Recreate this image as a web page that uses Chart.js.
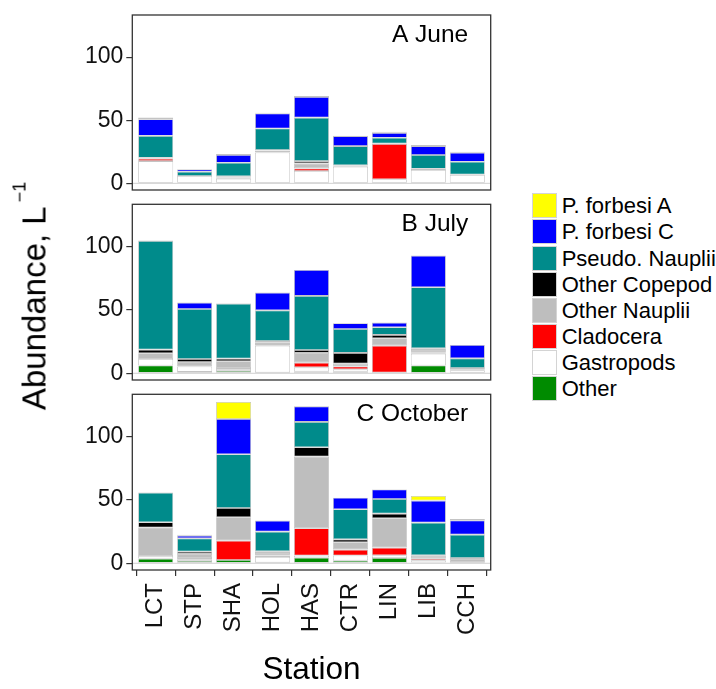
<!DOCTYPE html>
<html>
<head>
<meta charset="utf-8">
<script src="https://cdn.jsdelivr.net/npm/chart.js@4.4.0/dist/chart.umd.min.js"></script>
<style>
  html, body { margin: 0; padding: 0; background: #fff; }
  #page {
    position: relative; width: 716px; height: 689px; overflow: hidden;
    font-family: "Liberation Sans", Arial, sans-serif; color: #000;
  }
  #page canvas { position: absolute; left: 0; }
  #ytitle {
    position: absolute; left: 34px; top: 296px; white-space: nowrap;
    font-size: 33px; line-height: 1;
    transform: translate(-50%, -50%) rotate(-90deg);
  }
  #ytitle .sup { font-size: 18px; position: relative; top: -20px; margin-left: 4px; }
  .lg-row { position: absolute; left: 531.7px; height: 25px; }
  .lg-key {
    position: absolute; left: 0; top: 0; width: 25.6px; height: 25px;
    box-sizing: border-box; border: 1px solid #d4d4d4;
  }
  .lg-text {
    position: absolute; left: 30px; top: 0; line-height: 25px;
    font-size: 22px; white-space: nowrap;
  }
</style>
</head>
<body>
<div id="page">
  <canvas id="june" width="500" height="197" style="top:0px"></canvas>
  <canvas id="july" width="500" height="190" style="top:197px"></canvas>
  <canvas id="october" width="500" height="302" style="top:387px"></canvas>
  <div id="ytitle">Abundance, L<span class="sup">−1</span></div>
  <div id="legend"></div>
</div>
<script>
// stations along the estuary
const stations = ['LCT', 'STP', 'SHA', 'HOL', 'HAS', 'CTR', 'LIN', 'LIB', 'CCH'];

// taxa, bottom of the stack first
const taxa = ['Other', 'Gastropods', 'Cladocera', 'Other Nauplii', 'Other Copepod',
              'Pseudo. Nauplii', 'P. forbesi C', 'P. forbesi A'];
const taxaColors = ['#008B00', '#FFFFFF', '#FF0000', '#BEBEBE', '#000000',
                    '#008B8B', '#0000FF', '#FFFF00'];

const yTicks = [0, 50, 100];

// abundance per litre, June
const juneOther      = [0, 0, 0, 0, 0, 0, 0, 0, 0];
const juneGastropods = [17.6, 5.8, 3.7, 24.5, 9.7, 13.2, 3.2, 10.5, 6.6];
const juneCladocera  = [2.0, 0, 1.0, 1.3, 2.1, 1.0, 27.9, 1.1, 0];
const juneNauplii    = [0.7, 0, 0.8, 0.5, 4.0, 0, 0.5, 0, 0.3];
const juneCopepod    = [0, 0, 0, 0, 1.8, 0, 0, 0, 0];
const junePseudo     = [17.3, 3.4, 10.8, 17.1, 34.5, 15.3, 4.5, 10.8, 10.2];
const juneForbesiC   = [13.2, 1.8, 6.1, 11.9, 16.3, 7.9, 3.9, 7.1, 7.1];
const juneForbesiA   = [1.3, 0.3, 0.8, 0.7, 0.8, 0.3, 0.8, 0.8, 0.8];

// July
const julyOther      = [6.1, 1.1, 1.8, 0.5, 1.3, 1.3, 0.5, 6.1, 0.5];
const julyGastropods = [5.2, 4.2, 1.6, 21.3, 3.4, 1.9, 0, 9.4, 1.9];
const julyCladocera  = [0, 0, 0.8, 1.4, 3.7, 2.1, 21.3, 0.8, 0];
const julyNauplii    = [4.5, 3.6, 5.3, 1.0, 7.7, 2.3, 5.8, 2.1, 0.8];
const julyCopepod    = [2.9, 2.4, 2.1, 1.3, 2.3, 8.5, 2.7, 1.3, 1.0];
const julyPseudo     = [85.8, 39.5, 43.4, 24.2, 42.7, 18.9, 6.0, 48.2, 7.6];
const julyForbesiC   = [0.3, 5.0, 0.3, 14.0, 20.5, 4.5, 3.7, 25.0, 10.6];
const julyForbesiA   = [0, 0, 0, 0, 0, 0, 0, 0, 0];

// October
const octOther      = [3.7, 1.8, 2.6, 0.5, 4.5, 2.1, 4.2, 0.8, 0.3];
const octGastropods = [2.1, 1.4, 0, 4.5, 1.6, 4.0, 2.1, 1.6, 0.5];
const octCladocera  = [0, 1.0, 15.3, 1.1, 21.5, 4.7, 6.1, 1.5, 0];
const octNauplii    = [22.4, 3.2, 18.4, 2.1, 56.6, 5.8, 23.1, 1.9, 2.6];
const octCopepod    = [4.2, 1.8, 7.4, 1.3, 7.4, 2.3, 3.7, 0.5, 0.8];
const octPseudo     = [23.4, 10.5, 42.4, 15.5, 20.0, 23.7, 11.6, 25.8, 18.4];
const octForbesiC   = [0, 2.1, 27.8, 8.7, 12.3, 9.2, 7.4, 17.4, 11.3];
const octForbesiA   = [0, 0.8, 13.5, 0, 0, 0, 0, 3.7, 1.1];

const FONT = '"Liberation Sans", Arial, sans-serif';

// panel frame, zero line and the corner label
const panelDecor = {
  id: 'panelDecor',
  beforeDatasetsDraw(chart) {
    const { ctx, chartArea: a } = chart;
    const y0 = chart.scales.y.getPixelForValue(0);
    ctx.save();
    ctx.strokeStyle = '#d0d0d0';
    ctx.lineWidth = 1;
    ctx.beginPath();
    ctx.moveTo(a.left, y0);
    ctx.lineTo(a.right, y0);
    ctx.stroke();
    ctx.restore();
  },
  afterDatasetsDraw(chart, args, opts) {
    const { ctx, chartArea: a } = chart;
    ctx.save();
    ctx.strokeStyle = '#333';
    ctx.lineWidth = 1.3;
    ctx.strokeRect(a.left, a.top, a.right - a.left, a.bottom - a.top);
    ctx.fillStyle = '#000';
    ctx.font = '24.5px ' + FONT;
    ctx.textAlign = 'right';
    ctx.textBaseline = 'alphabetic';
    ctx.fillText(opts.text, a.right - 22.5, a.top + 26.5);
    ctx.restore();
  }
};

function buildPanel(id, label, series, padTop, padBottom, showStations) {
  const datasets = series.map((vals, k) => ({
    label: taxa[k],
    data: vals.map((v, i) => ({ x: i + 1, y: v })),
    backgroundColor: taxaColors[k],
    borderColor: '#c4c4c4',
    borderWidth: 0.8,
    borderSkipped: false,
    stack: 'all',
    barPercentage: 0.9,
    categoryPercentage: 1.0
  }));

  return new Chart(document.getElementById(id).getContext('2d'), {
    type: 'bar',
    data: { datasets },
    options: {
      responsive: false,
      animation: false,
      devicePixelRatio: 1,
      layout: { padding: { left: 0, right: 9.3, top: padTop, bottom: padBottom } },
      plugins: {
        legend: { display: false },
        tooltip: { enabled: false },
        panelDecor: { text: label }
      },
      scales: {
        x: {
          type: 'linear',
          min: 0.4,
          max: 9.6,
          offset: false,
          display: showStations,
          afterBuildTicks: s => { s.ticks = stations.map((_, i) => ({ value: i + 1 })); },
          afterFit: s => {
            s.paddingLeft = 0;
            s.paddingRight = 0;
            if (showStations) s.height = 119;
          },
          border: { display: false },
          grid: { drawOnChartArea: false, tickLength: 6, color: '#333', lineWidth: 1.2 },
          ticks: {
            autoSkip: false,
            minRotation: 90,
            maxRotation: 90,
            padding: 7,
            color: '#111',
            font: { size: 24, family: FONT },
            callback: v => stations[v - 1]
          },
          title: {
            display: showStations,
            text: 'Station',
            color: '#000',
            font: { size: 31.5, family: FONT, lineHeight: 1.2 },
            padding: 0
          }
        },
        y: {
          stacked: true,
          min: -5.3,
          max: 133.4,
          afterBuildTicks: s => { s.ticks = yTicks.map(v => ({ value: v })); },
          afterFit: s => {
            s.width = 132.3;
            s.paddingTop = 0;
            s.paddingBottom = 0;
          },
          border: { display: false },
          grid: { drawOnChartArea: false, tickLength: 6, color: '#333', lineWidth: 1.2 },
          ticks: { padding: 3, color: '#111', font: { size: 23, family: FONT } }
        }
      }
    },
    plugins: [panelDecor]
  });
}

buildPanel('june', 'A June',
  [juneOther, juneGastropods, juneCladocera, juneNauplii, juneCopepod, junePseudo, juneForbesiC, juneForbesiA],
  15, 7, false);
buildPanel('july', 'B July',
  [julyOther, julyGastropods, julyCladocera, julyNauplii, julyCopepod, julyPseudo, julyForbesiC, julyForbesiA],
  7.3, 7, false);
buildPanel('october', 'C October',
  [octOther, octGastropods, octCladocera, octNauplii, octCopepod, octPseudo, octForbesiC, octForbesiA],
  7.3, 0, true);

// legend, top entry is the top of the stack
const legend = document.getElementById('legend');
taxa.slice().reverse().forEach((name, i) => {
  const k = taxa.length - 1 - i;
  const row = document.createElement('div');
  row.className = 'lg-row';
  row.style.top = (193.3 + i * 26.1) + 'px';
  const key = document.createElement('div');
  key.className = 'lg-key';
  key.style.background = taxaColors[k];
  const txt = document.createElement('div');
  txt.className = 'lg-text';
  txt.textContent = name;
  row.appendChild(key);
  row.appendChild(txt);
  legend.appendChild(row);
});
</script>
</body>
</html>
